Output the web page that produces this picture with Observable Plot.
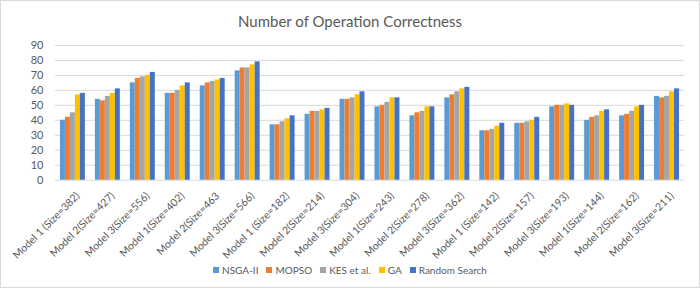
<!DOCTYPE html>
<html>
<head>
<meta charset="utf-8">
<script src="https://cdn.jsdelivr.net/npm/d3@7"></script>
<script src="https://cdn.jsdelivr.net/npm/@observablehq/plot@0.6"></script>
<style>
  html, body { margin: 0; padding: 0; background: #fff; }
  #wrap { position: relative; width: 700px; height: 288px; box-sizing: border-box; border: 1px solid #d9d9d9; overflow: hidden; font-family: Lato, "Open Sans", sans-serif; }
  #chart { position: absolute; left: -1px; top: -1px; }
  #title { position: absolute; left: 0; top: 11px; width: 100%; text-align: center; font-size: 15px; color: #595959; }
  #legend { position: absolute; left: 0; top: 263px; width: 100%; text-align: center; font-size: 10px; color: #595959; }
  #legend span.item { margin: 0 4px; white-space: nowrap; }
  #legend span.sw { display: inline-block; width: 6px; height: 6px; margin-right: 3px; vertical-align: 1px; }
</style>
</head>
<body>
<div id="wrap">
  <div id="chart"></div>
  <div id="title">Number of Operation Correctness</div>
  <div id="legend"></div>
</div>
<script>
const groups = [
  "Model 1 (Size=382)", "Model 2(Size=427)", "Model 3(Size=556)",
  "Model 1(Size=402)", "Model 2(Size=463", "Model 3(Size=566)",
  "Model 1 (Size=182)", "Model 2(Size=214)", "Model 3(Size=304)",
  "Model 1(Size=243)", "Model 2(Size=278)", "Model 3(Size=362)",
  "Model 1 (Size=142)", "Model 2(Size=157)", "Model 3(Size=193)",
  "Model 1(Size=144)", "Model 2(Size=162)", "Model 3(Size=211)"
];
const seriesNames = ["NSGA-II", "MOPSO", "KES et al.", "GA", "Random Search"];
const seriesColors = ["#5B9BD5", "#ED7D31", "#A5A5A5", "#FFC000", "#4472C4"];
const nsga2  = [40, 54, 65, 58, 63, 73, 37, 44, 54, 49, 43, 55, 33, 38, 49, 40, 43, 56];
const mopso  = [42, 53, 68, 58, 65, 75, 37, 46, 54, 50, 45, 57, 33, 38, 50, 42, 44, 55];
const kes    = [45, 56, 69, 60, 66, 75, 39, 46, 55, 52, 46, 59, 34, 39, 50, 43, 46, 56];
const ga     = [57, 58, 70, 63, 67, 77, 41, 47, 57, 55, 49, 61, 36, 40, 51, 46, 49, 59];
const random = [58, 61, 72, 65, 68, 79, 43, 48, 59, 55, 49, 62, 38, 42, 50, 47, 50, 61];
const yTicks = [0, 10, 20, 30, 40, 50, 60, 70, 80, 90];

const cols = [nsga2, mopso, kes, ga, random];
const data = groups.flatMap((g, i) => seriesNames.map((s, j) => ({group: g, series: s, value: cols[j][i]})));

const chart = Plot.plot({
  width: 700,
  height: 288,
  marginTop: 45,
  marginBottom: 108,
  marginLeft: 52,
  marginRight: 12,
  style: {fontFamily: "Lato, 'Open Sans', sans-serif", fontSize: "11px", color: "#595959", background: "transparent"},
  fx: {domain: groups, padding: 0, label: null},
  x: {domain: seriesNames, axis: null, paddingInner: 0.1, paddingOuter: 0.8},
  y: {domain: [0, 90], ticks: yTicks, tickSize: 0, tickPadding: 12, label: null},
  color: {domain: seriesNames, range: seriesColors},
  marks: [
    Plot.gridY(yTicks, {stroke: "#d9d9d9", strokeOpacity: 1}),
    Plot.barY(data, {fx: "group", x: "series", y: "value", fill: "series"}),
    Plot.axisFx({anchor: "bottom", tickRotate: -45, tickSize: 0, tickPadding: 14, dx: 5, fontSize: 10.5, label: null})
  ]
});
document.getElementById("chart").appendChild(chart);

const legend = document.getElementById("legend");
seriesNames.forEach((s, i) => {
  const item = document.createElement("span");
  item.className = "item";
  const sw = document.createElement("span");
  sw.className = "sw";
  sw.style.background = seriesColors[i];
  item.appendChild(sw);
  item.appendChild(document.createTextNode(s));
  legend.appendChild(item);
});
</script>
</body>
</html>
